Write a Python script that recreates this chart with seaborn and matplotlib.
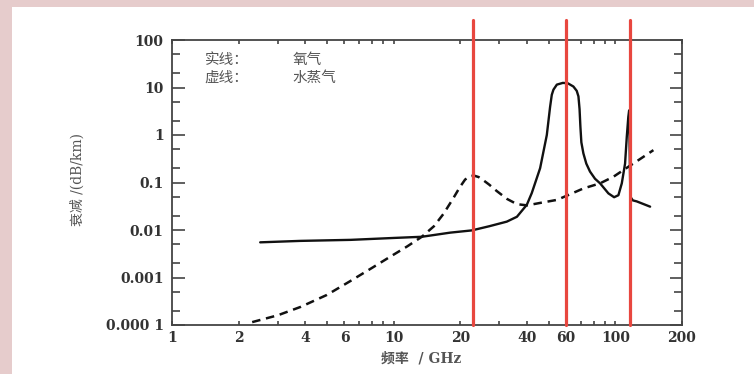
import pandas as pd
import seaborn as sns
import matplotlib.pyplot as plt
from matplotlib.patches import Rectangle

# oxygen (solid line): frequency in GHz, attenuation in dB/km
o2_freq = [2.5, 3.8, 6.4, 10, 13.4, 18, 22.5, 27, 32.4, 36, 39.9, 42, 45.8, 49.1,
           50.8, 51.7, 52.6, 54.5, 58, 61, 64.7, 67, 68.2, 69.0, 69.6, 70.3, 71.8,
           74, 76.9, 81, 85.4, 93.1, 98.8, 103.3, 107, 110.7, 112.7, 114.5, 115.5,
           116.3, 117, 120, 125, 143.6]
o2_att = [0.0055, 0.0059, 0.0062, 0.0068, 0.0072, 0.0088, 0.0098, 0.012, 0.015, 0.019,
          0.034, 0.06, 0.2, 1.0, 3.9, 7.0, 9.0, 11.5, 12.5, 12.3, 10.5, 8.5, 6.5, 3.5,
          1.5, 0.7, 0.41, 0.25, 0.17, 0.12, 0.096, 0.059, 0.049, 0.054, 0.096, 0.25,
          0.92, 2.4, 3.3, 0.3, 0.05, 0.042, 0.04, 0.031]

# water vapour (dashed line)
h2o_freq = [2.3, 3.0, 3.8, 5.0, 6.4, 8.0, 9.6, 11.5, 13.4, 15.2, 16.8, 18.5, 19.9,
            21.0, 22.0, 23.0, 24.2, 25.5, 27, 29.2, 32.5, 36, 40, 47, 54.5, 60, 71.8,
            85.4, 98.3, 112, 125, 148.6]
h2o_att = [1.15e-4, 1.6e-4, 2.4e-4, 4.3e-4, 8.5e-4, 0.0016, 0.0027, 0.0045, 0.0072,
           0.012, 0.022, 0.045, 0.08, 0.115, 0.135, 0.14, 0.13, 0.11, 0.09, 0.066,
           0.045, 0.035, 0.033, 0.038, 0.043, 0.052, 0.075, 0.096, 0.133, 0.2, 0.28,
           0.48]

# highlighted frequencies (red lines)
mark_freq = [22.8, 60, 117]

x_ticks = [1, 2, 4, 6, 10, 20, 40, 60, 100, 200]
x_minor = [3, 5, 7, 8, 9, 30, 50, 70, 80, 90]
y_ticks = [1e-4, 1e-3, 1e-2, 1e-1, 1, 10, 100]
y_labels = ["0.000 1", "0.001", "0.01", "0.1", "1", "10", "100"]
y_minor = [2e-4, 5e-4, 2e-3, 5e-3, 2e-2, 5e-2, 0.2, 0.5, 2, 5, 20, 50]

o2 = pd.DataFrame({"freq": o2_freq, "att": o2_att})
h2o = pd.DataFrame({"freq": h2o_freq, "att": h2o_att})

sns.set_style("ticks")
plt.rcParams["font.family"] = ["DejaVu Serif", "Noto Sans CJK SC"]

fig = plt.figure(figsize=(7.54, 3.74), dpi=100)
fig.patch.set_facecolor("#e6cccc")
fig.patches.append(Rectangle((12 / 754, 0), 1, 367 / 374, transform=fig.transFigure,
                             facecolor="white", edgecolor="none", zorder=-10))

ax = fig.add_axes([172 / 754, 49 / 374, 510 / 754, 285 / 374])
ax.set_facecolor("white")

sns.lineplot(data=o2, x="freq", y="att", ax=ax, color="#111111", lw=1.7,
             estimator=None, sort=False)
sns.lineplot(data=h2o, x="freq", y="att", ax=ax, color="#111111", lw=1.8,
             estimator=None, sort=False, linestyle=(0, (3.4, 2.3)))

for f in mark_freq:
    ax.axvline(f, ymin=0, ymax=1.07, color="#e8473f", lw=2.3, clip_on=False, zorder=5)

ax.set_xscale("log")
ax.set_yscale("log")
ax.set_xlim(1, 200)
ax.set_ylim(1e-4, 100)

ax.set_xticks(x_ticks, [str(v) for v in x_ticks])
ax.set_xticks(x_minor, minor=True)
ax.set_yticks(y_ticks, y_labels)
ax.set_yticks(y_minor, minor=True)
ax.tick_params(which="both", direction="in", top=True, right=True, color="#444444")
ax.tick_params(axis="x", which="both", length=3, width=1.2, pad=4)
ax.tick_params(axis="y", which="major", length=9, width=1.2, pad=6)
ax.tick_params(axis="y", which="minor", length=6, width=1.2)
ax.tick_params(labelsize=10, labelcolor="#333333")
for lab in ax.get_xticklabels() + ax.get_yticklabels():
    lab.set_fontweight("bold")

for s in ax.spines.values():
    s.set_color("#444444")
    s.set_linewidth(1.3)

ax.set_xlabel("")
ax.set_ylabel("")

# legend-like notes
note_kw = dict(transform=ax.transAxes, va="center", fontsize=10.5, color="#555555",
               family=["Noto Sans CJK SC"])
ax.text(0.064, 0.93, "实线：", **note_kw)
ax.text(0.237, 0.93, "氧气", **note_kw)
ax.text(0.064, 0.868, "虚线：", **note_kw)
ax.text(0.237, 0.868, "水蒸气", **note_kw)

fig.text(421 / 754, 1 - 358 / 374, "频率  / GHz", ha="center", va="center",
         fontsize=10, color="#555555", fontweight="bold")
fig.text(78 / 754, 1 - 180 / 374, "衰减 /(dB/km)", ha="center", va="center",
         rotation=90, fontsize=10, color="#555555")

fig.savefig("out.png", dpi=100, facecolor=fig.get_facecolor())
